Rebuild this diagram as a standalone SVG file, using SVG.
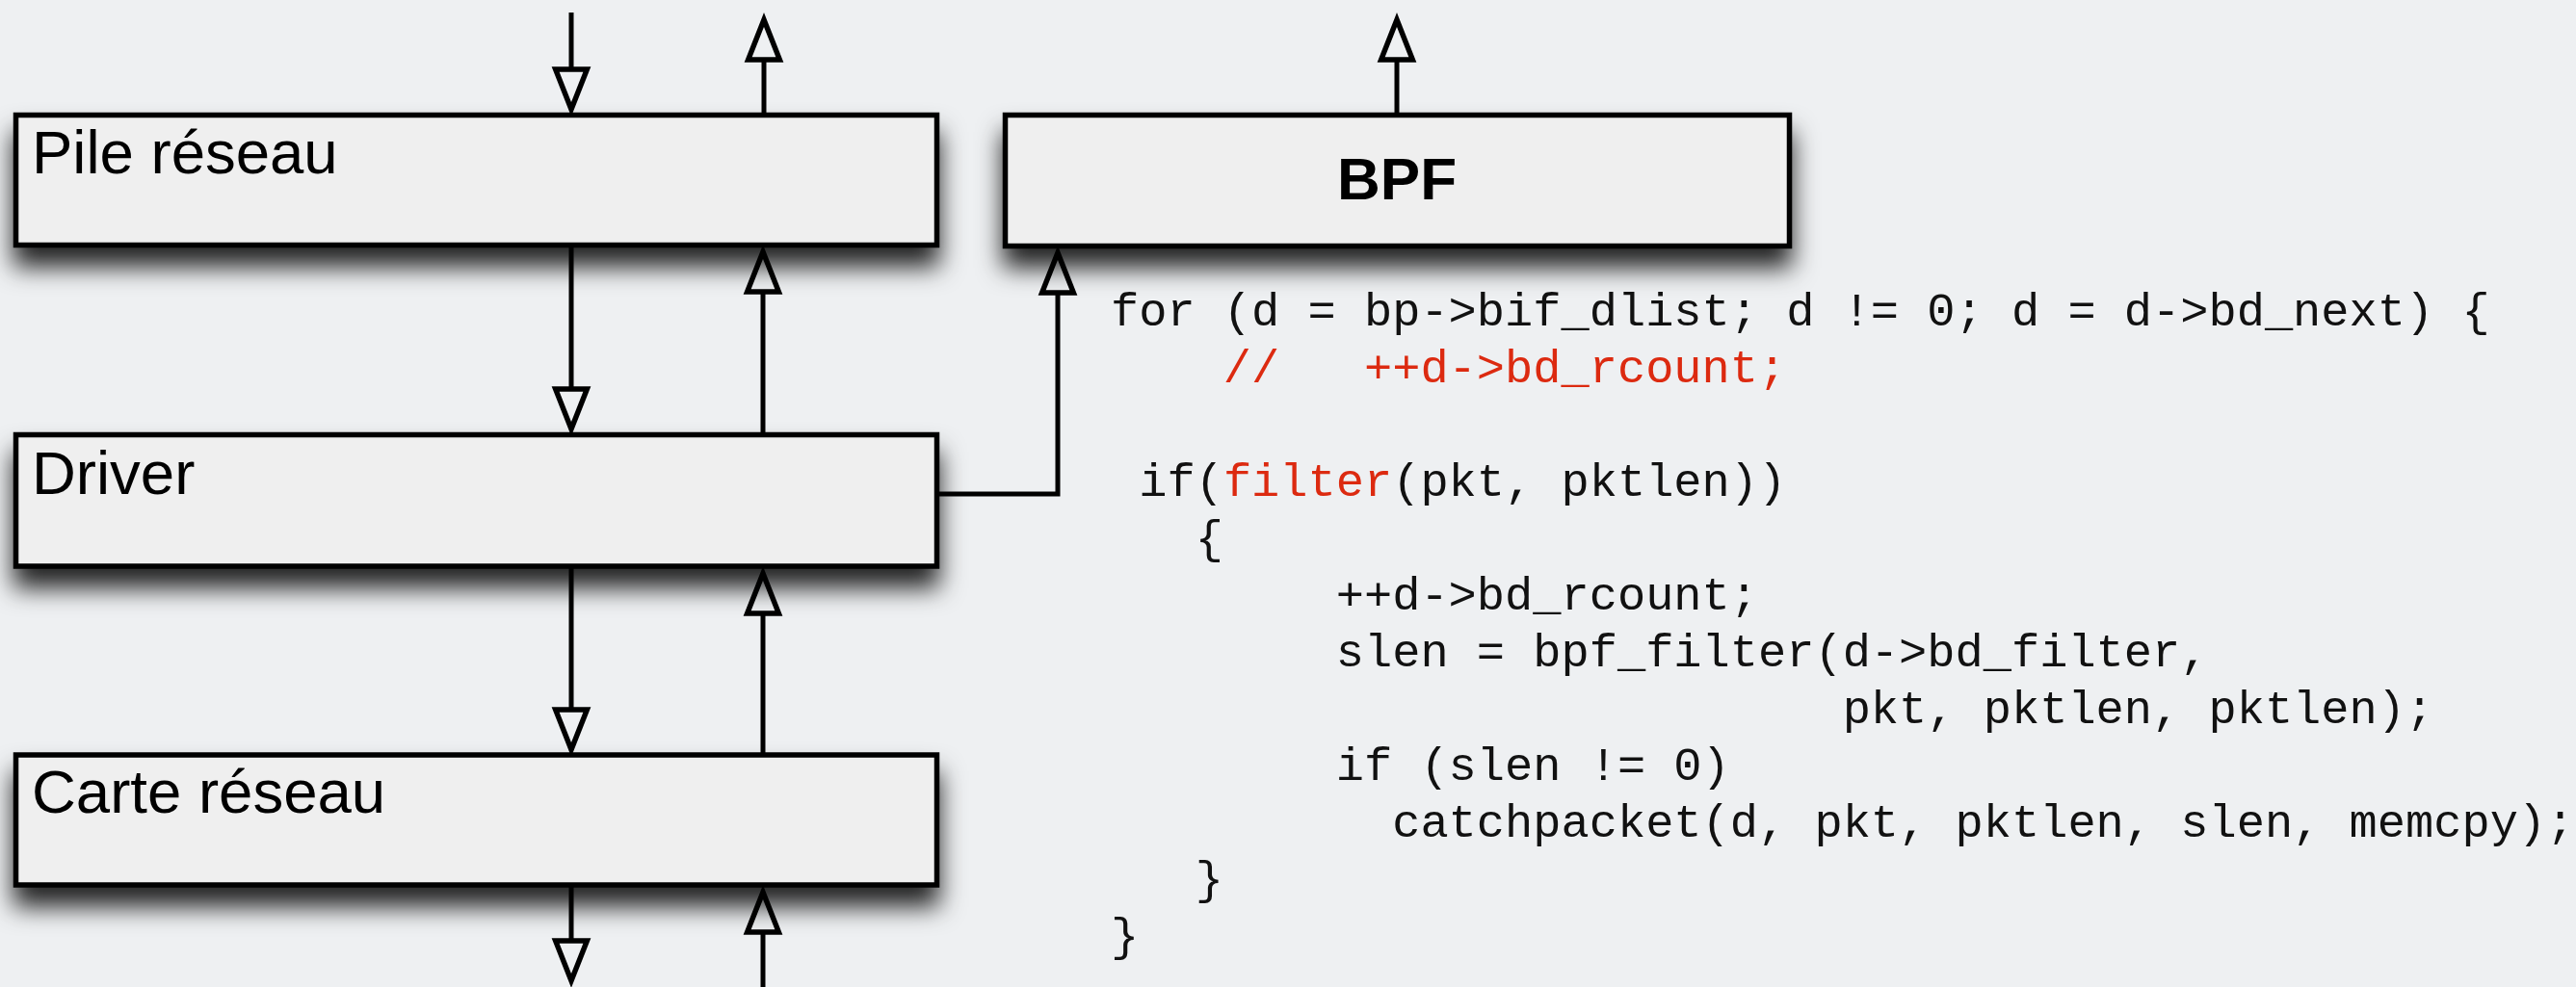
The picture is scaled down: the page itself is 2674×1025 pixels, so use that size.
<svg xmlns="http://www.w3.org/2000/svg" width="2674" height="1025" viewBox="0 0 2674 1025">
  <defs>
    <filter id="shadow" x="-10%" y="-40%" width="120%" height="200%">
      <feDropShadow dx="0" dy="20" stdDeviation="13" flood-color="#000" flood-opacity="0.85"/>
    </filter>
    <marker id="head" markerUnits="userSpaceOnUse" markerWidth="60" markerHeight="50" refX="0" refY="0" viewBox="-5 -20 55 40" orient="auto" overflow="visible">
      <path d="M0,-15 L38,0 L0,15 Z" fill="none" stroke="#000" stroke-width="5" stroke-linejoin="miter" stroke-miterlimit="6"/>
    </marker>
    <style>
      .box { fill: #efefef; stroke: #000; stroke-width: 5.5; }
      .label { font-family: "Liberation Sans", Arial, Helvetica, sans-serif; font-size: 63.5px; fill: #000; }
      .bold { font-weight: bold; font-size: 62px; }
      .conn { fill: none; stroke: #000; stroke-width: 5; marker-end: url(#head); }
      .code { font-family: "Liberation Mono", "Courier New", monospace; font-size: 48.7px; fill: #111; white-space: pre; }
      .red { fill: #dc2a10; }
    </style>
  </defs>
  <rect x="0" y="0" width="2674" height="1025" fill="#eef0f2"/>

  <g id="pile-reseau">
    <rect class="box" x="16.5" y="119.5" width="956" height="135" filter="url(#shadow)"/>
    <text class="label" x="33" y="180">Pile réseau</text>
  </g>
  <g id="driver">
    <rect class="box" x="16.5" y="451.5" width="956" height="136.5" filter="url(#shadow)"/>
    <text class="label" x="33" y="513">Driver</text>
  </g>
  <g id="carte-reseau">
    <rect class="box" x="16.5" y="784" width="956" height="135" filter="url(#shadow)"/>
    <text class="label" x="33" y="844">Carte réseau</text>
  </g>
  <g id="bpf">
    <rect class="box" x="1043.5" y="119.5" width="814" height="136" filter="url(#shadow)"/>
    <text class="label bold" x="1450" y="207" text-anchor="middle">BPF</text>
  </g>

  <g id="connectors">
    <path class="conn" d="M593,13 V72"/>
    <path class="conn" d="M793,117 V62"/>
    <path class="conn" d="M1450,117 V62"/>
    <path class="conn" d="M593,257 V404"/>
    <path class="conn" d="M792,449 V303"/>
    <path class="conn" d="M975,513 H1098 V304"/>
    <path class="conn" d="M593,590 V737"/>
    <path class="conn" d="M792,782 V637"/>
    <path class="conn" d="M593,921 V977"/>
    <path class="conn" d="M792,1025 V968"/>
  </g>

  <g id="code">
    <text class="code" x="1153" y="338">for (d = bp-&gt;bif_dlist; d != 0; d = d-&gt;bd_next) {</text>
    <text class="code red" x="1153" y="397">    //   ++d-&gt;bd_rcount;</text>
    <text class="code" x="1153" y="515"> if(<tspan class="red">filter</tspan>(pkt, pktlen))</text>
    <text class="code" x="1153" y="574">   {</text>
    <text class="code" x="1153" y="633">        ++d-&gt;bd_rcount;</text>
    <text class="code" x="1153" y="692">        slen = bpf_filter(d-&gt;bd_filter,</text>
    <text class="code" x="1153" y="751">                          pkt, pktlen, pktlen);</text>
    <text class="code" x="1153" y="810">        if (slen != 0)</text>
    <text class="code" x="1153" y="869">          catchpacket(d, pkt, pktlen, slen, memcpy);</text>
    <text class="code" x="1153" y="928">   }</text>
    <text class="code" x="1153" y="987">}</text>
  </g>
</svg>
